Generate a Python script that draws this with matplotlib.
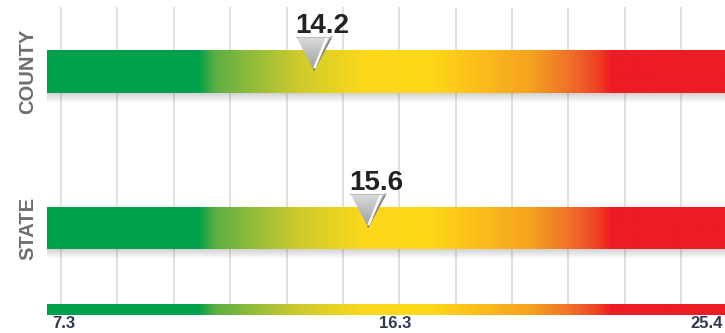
import numpy as np
import matplotlib
matplotlib.use("Agg")
import matplotlib.pyplot as plt
from matplotlib.colors import LinearSegmentedColormap, to_rgb
from matplotlib.patches import Polygon

plt.rcParams['font.family'] = ['Liberation Sans', 'DejaVu Sans']

# ---- data -------------------------------------------------------------
categories = ["COUNTY", "STATE"]
values = [14.2, 15.6]
scale_min, scale_mid, scale_max = 7.3, 16.3, 25.4
tick_labels = ["7.3", "16.3", "25.4"]

# colour ramp along the scale (value, colour)
ramp_values = [7.3, 11.2, 11.65, 12.5, 13.8, 15.5, 17.2, 18.5, 19.8, 20.8, 21.6, 21.9, 25.4]
ramp_colors = ["#00a04b", "#00a04b", "#5daf44", "#8dba3c", "#cdcb2c", "#fcd81a",
               "#fed817", "#fbbd1a", "#f6a21f", "#f07228", "#ee3e25", "#ec1c24", "#ec1c24"]

# ---- figure / axes ----------------------------------------------------
W, H = 725, 333
fig = plt.figure(figsize=(W / 100, H / 100), dpi=100)
ax = fig.add_axes([0, 0, 1, 1])
ax.set_axis_off()

# horizontal scale: the bar runs from pixel 47 (min) to pixel 747 (max)
bar_left_px, bar_right_px = 47, 747
upp = (scale_max - scale_min) / (bar_right_px - bar_left_px)   # units per pixel
xmin = scale_min - bar_left_px * upp
xmax = xmin + W * upp
ax.set_xlim(xmin, xmax)
ax.set_ylim(H, 0)

span = scale_max - scale_min
cmap = LinearSegmentedColormap.from_list(
    "risk", [((v - scale_min) / span, c) for v, c in zip(ramp_values, ramp_colors)], N=512)
grad = np.linspace(0, 1, 1024)[None, :]

# background grid lines
grid_start, grid_step = 7.662, 1.458
for k in range(13):
    ax.plot([grid_start + k * grid_step] * 2, [8, 304], color="#dadada", lw=1.2, zorder=1)

bar_rows = [(50, 93), (207, 249)]


def shadow(y_bottom, depth=10):
    a = np.linspace(0.32, 0.0, 50)[:, None] * np.ones((1, 2))
    rgba = np.zeros((50, 2, 4))
    rgba[..., :3] = 0.45
    rgba[..., 3] = a
    ax.imshow(rgba, extent=[scale_min, scale_max, y_bottom + depth, y_bottom],
              aspect="auto", zorder=2, interpolation="bilinear")


def ramp_bar(y0, y1, z=3):
    ax.imshow(grad, cmap=cmap, extent=[scale_min, scale_max, y1, y0],
              aspect="auto", zorder=z, interpolation="bilinear")


def marker(v, bar_top):
    half = 17.5 * upp
    top = bar_top - 13
    tip = bar_top + 20
    verts = [(v - half, top), (v + half, top), (v, tip)]
    poly = Polygon(verts, closed=True, facecolor="none", edgecolor="none", zorder=6)
    ax.add_patch(poly)
    # grey vertical shading inside the triangle
    shade = np.linspace(0, 1, 64)[:, None] * np.ones((1, 2))
    light, dark = np.array(to_rgb("#dcdcdc")), np.array(to_rgb("#9c9c9c"))
    rgb = light + (dark - light) * shade[..., None]
    im = ax.imshow(rgb, extent=[v - half, v + half, tip, top], aspect="auto",
                   zorder=6, interpolation="bilinear")
    im.set_clip_path(poly)
    # darker right rim and white highlight
    ax.plot([v + half, v], [top, tip], color="#858585", lw=1.3, zorder=7,
            solid_capstyle="round")
    ax.plot([v + half - 5 * upp, v + 1 * upp], [top + 2, tip - 3], color="white",
            lw=1.8, zorder=7, alpha=0.95)
    ax.plot([v - half, v + half], [top, top], color="#bdbdbd", lw=0.8, zorder=7)
    ax.text(v - half - 1 * upp, bar_top - 17, f"{v:.1f}", ha="left", va="baseline",
            fontsize=20, fontweight="bold", color="#222222", zorder=8)


for (y0, y1), cat, val in zip(bar_rows, categories, values):
    shadow(y1)
    ramp_bar(y0, y1)
    marker(val, y0)
    ax.text(27.5 * upp + xmin, (y0 + y1) / 2, cat, rotation=90, ha="center", va="center",
            fontsize=14.5, fontweight="bold", color="#6e6e6e", zorder=5)

# bottom scale bar with its labels
ramp_bar(304, 315)
tick_kw = dict(fontsize=12, fontweight="bold", color="#2d3a4f", va="baseline")
ax.text(scale_min + 5 * upp, 328, tick_labels[0], ha="left", **tick_kw)
ax.text(scale_mid, 328, tick_labels[1], ha="center", **tick_kw)
ax.text(xmax - 2 * upp, 328, tick_labels[2], ha="right", **tick_kw)

fig.savefig("out.png", dpi=100)
